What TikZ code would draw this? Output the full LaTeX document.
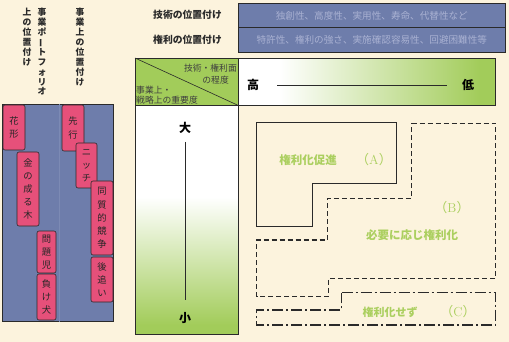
\documentclass[tikz,border=0pt]{standalone}
\usepackage{fontspec}
\newfontfamily\cjk{Noto Sans CJK JP}
\definecolor{bgc}{HTML}{FCF3DD}
\definecolor{bluec}{HTML}{6E7DAB}
\definecolor{pinkc}{HTML}{E6507A}
\definecolor{grnc}{HTML}{A2CC5A}
\definecolor{lblc}{HTML}{ABCF5F}
\definecolor{fadec}{HTML}{A9B1D2}
\definecolor{darkc}{HTML}{2A2A2A}
\pgfdeclarehorizontalshading{hgrad}{100bp}{color(0bp)=(white); color(33bp)=(white); color(72bp)=(grnc); color(100bp)=(grnc)}
\pgfdeclareverticalshading{vgrad}{100bp}{color(0bp)=(grnc); color(27bp)=(grnc); color(55bp)=(white); color(100bp)=(white)}
\begin{document}
\begin{tikzpicture}[x=1pt,y=-1pt,
  pinkbox/.style={draw=darkc, line width=0.6pt, fill=pinkc, rounded corners=2pt, inner sep=0pt, align=center, font=\cjk\fontsize{9.3}{13.2}\selectfont, text=black!85},
  vtitle/.style={inner sep=0pt, align=center, anchor=north, font=\cjk\bfseries\fontsize{8.8}{9.9}\selectfont, text=darkc},
  toplbl/.style={inner sep=0pt, font=\cjk\bfseries\fontsize{9.8}{9.8}\selectfont, text=darkc},
  bluebox/.style={draw=darkc, line width=0.6pt, fill=bluec, inner sep=0pt, anchor=north west, font=\cjk\fontsize{9.6}{9.6}\selectfont, text=fadec},
  hdr/.style={inner sep=0pt, font=\cjk\fontsize{8.8}{8.8}\selectfont, text=darkc!90},
  bigk/.style={inner sep=0pt, font=\cjk\bfseries\fontsize{12}{12}\selectfont, text=black},
  axisline/.style={draw=darkc, line width=0.8pt},
  lbl/.style={inner sep=0pt, text=lblc},
  reg/.style={draw=darkc, line width=1.1pt},
]
\useasboundingbox (0,0) rectangle (509,342);
\fill[bgc] (0,0) rectangle (509,342);

% ---------- left panel ----------
\node[vtitle] (t1) at (42,8) {事\\業\\ポ\\\rotatebox[origin=c]{90}{ー}\\ト\\フ\\ォ\\リ\\オ};
\node[vtitle] (t2) at (27,8) {上\\の\\位\\置\\付\\け};
\node[vtitle] (t3) at (80,8) {事\\業\\上\\の\\位\\置\\付\\け};

\node[draw=darkc, line width=0.6pt, fill=bluec, inner sep=0pt, minimum width=111pt, minimum height=217pt, anchor=north west] (panel) at (2,104) {};
\draw[bluec!90!white, line width=0.5pt] (panel.north) ++(1,0) -- ([xshift=1pt]panel.south);

\node[pinkbox, minimum width=22pt, minimum height=45pt] (hana) at (14,127.5) {花\\形};
\node[pinkbox, minimum width=22pt, minimum height=74pt] (kane) at (28,189) {金\\の\\成\\る\\木};
\node[pinkbox, minimum width=19pt, minimum height=42pt] (mon) at (46.5,252) {問\\題\\児};
\node[pinkbox, minimum width=19pt, minimum height=46pt] (make) at (46.5,297) {負\\け\\犬};

\node[pinkbox, minimum width=22pt, minimum height=46pt] (sen) at (73,128) {先\\行};
\node[pinkbox, minimum width=21pt, minimum height=45pt] (nic) at (86.5,165.5) {ニ\\ッ\\チ};
\node[pinkbox, minimum width=22pt, minimum height=74pt] (dou) at (102,218) {同\\質\\的\\競\\争};
\node[pinkbox, minimum width=22pt, minimum height=45pt] (ato) at (102,279.5) {後\\追\\い};

% ---------- top right ----------
\node[toplbl, anchor=west] (l1) at (153,15) {技術の位置付け};
\node[toplbl, anchor=west] (l2) at (153,40) {権利の位置付け};
\node[bluebox, minimum width=267pt, minimum height=24.5pt] (b1) at (238,3) {独創性、高度性、実用性、寿命、代替性など};
\node[bluebox, minimum width=267pt, minimum height=24.5pt] (b2) at (238,27.5) {特許性、権利の強さ、実施確認容易性、回避困難性等};

% ---------- header ----------
\node[draw=darkc, line width=0.6pt, fill=grnc, inner sep=0pt, minimum width=103pt, minimum height=47pt, anchor=north west] (corner) at (135,58) {};
\draw[darkc, line width=0.6pt] (corner.north west) -- (corner.south east);
\node[draw=darkc, line width=0.6pt, shade, shading=hgrad, inner sep=0pt, minimum width=257pt, minimum height=47pt, anchor=north west] (scale) at (238,58) {};
\node[hdr, anchor=east] (h1) at (237,68) {技術・権利面};
\node[hdr, anchor=east] (h2) at (229,80) {の程度};
\node[hdr, anchor=west] (h3) at (136,90) {事業上・};
\node[hdr, anchor=west] (h4) at (136,100) {戦略上の重要度};

\node[bigk] (hi) at (253,85) {高};
\node[bigk] (lo) at (468,85) {低};
\draw[axisline, shorten <=18pt, shorten >=15pt] (hi) -- (lo);

% ---------- importance column ----------
\node[draw=darkc, line width=0.6pt, shade, shading=vgrad, inner sep=0pt, minimum width=103pt, minimum height=229pt, anchor=north west] (imp) at (135,105) {};
\node[bigk] (big) at (185,128) {大};
\node[bigk] (small) at (185,318) {小};
\draw[axisline, shorten <=8pt, shorten >=12pt] (big) -- (small);

% ---------- regions ----------
\draw[reg] (256.7,122.7) -- (396.7,122.7) -- (396.7,183.3) -- (312.7,183.3) -- (312.7,226.7) -- (256.7,226.7) -- cycle;
\draw[reg, dash pattern=on 5pt off 3pt] (411.7,123.3) -- (495.7,123.3) -- (495.7,278.3) -- (328.3,278.3) -- (328.3,296.7) -- (256.7,296.7) -- (256.7,240) -- (327.3,240) -- (327.3,198.3) -- (411.7,198.3) -- cycle;
\draw[reg, dash pattern=on 11pt off 3pt on 2pt off 3pt] (341.7,292.7) -- (495.7,292.7) -- (495.7,325) -- (256.7,325) -- (256.7,310) -- (341.7,310) -- cycle;

\node[lbl, font=\cjk\bfseries\fontsize{11.5}{11.5}\selectfont] (la) at (308,160) {権利化促進};
\node[lbl, font=\fontsize{13}{13}\selectfont] (pa) at (374,160) {{\cjk （}A{\cjk ）}};
\node[lbl, font=\fontsize{13}{13}\selectfont] (pb) at (452,208) {{\cjk （}B{\cjk ）}};
\node[lbl, font=\cjk\bfseries\fontsize{11.5}{11.5}\selectfont] (lb) at (412,235) {必要に応じ権利化};
\node[lbl, font=\cjk\bfseries\fontsize{11}{11}\selectfont] (lc) at (390,312) {権利化せず};
\node[lbl, font=\fontsize{13}{13}\selectfont] (pc) at (458,312) {{\cjk （}C{\cjk ）}};
\end{tikzpicture}
\end{document}
